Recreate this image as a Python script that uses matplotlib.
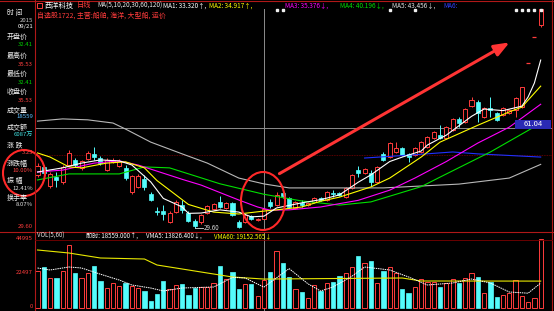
import matplotlib
matplotlib.use('Agg')
import matplotlib.pyplot as plt
from matplotlib.patches import Rectangle, Ellipse, FancyArrowPatch
from matplotlib.transforms import blended_transform_factory

plt.rcParams['font.family'] = ['Noto Sans CJK SC', 'DejaVu Sans']

# ---------------- data ----------------
opens = [46.26, 48.78, 42.80, 45.63, 44.06, 49.40, 50.98, 48.46, 51.29, 52.86,
         51.60, 47.83, 50.35, 49.09, 48.46, 40.92, 42.49, 45.00, 40.29, 34.94,
         34.94, 31.48, 34.63, 36.83, 34.31, 31.80, 31.48, 34.31, 35.57, 37.77,
         35.88, 37.46, 31.48, 31.48, 33.37, 32.15, 32.41, 37.77, 36.83, 40.60,
         39.03, 35.88, 37.30, 36.83, 37.77, 39.03, 38.40, 40.60, 40.60, 39.34,
         42.17, 47.83, 46.89, 46.89, 44.06, 52.86, 51.92, 53.49, 54.75, 52.86,
         52.55, 53.49, 55.06, 57.89, 58.84, 57.89, 60.41, 63.87, 62.92, 67.95,
         69.21, 64.50, 67.17, 65.75, 65.12, 65.75, 66.70, 67.64, 81.47, 89.65,
         93.42]
highs = [50.03, 49.40, 47.20, 47.20, 49.40, 54.12, 51.60, 50.98, 53.81, 55.06,
         52.23, 51.60, 51.60, 51.29, 49.40, 46.26, 46.57, 46.26, 40.92, 36.20,
         36.83, 34.94, 38.40, 38.40, 34.94, 32.43, 34.00, 36.83, 37.46, 39.66,
         37.77, 37.77, 32.11, 34.00, 33.68, 32.60, 35.53, 38.71, 40.92, 41.54,
         39.34, 38.09, 38.40, 37.77, 39.34, 39.34, 41.23, 41.54, 40.92, 42.49,
         46.57, 49.09, 48.46, 47.83, 49.09, 53.49, 56.64, 56.64, 55.06, 53.18,
         55.06, 56.95, 58.52, 60.09, 61.98, 61.67, 64.18, 64.50, 67.32, 70.78,
         69.84, 67.64, 70.78, 66.07, 67.64, 67.01, 70.78, 73.93, 81.47, 89.65,
         98.55]
lows = [45.63, 46.26, 42.17, 42.49, 43.43, 49.09, 48.78, 47.83, 50.98, 50.98,
        49.40, 47.52, 50.03, 48.78, 44.69, 40.29, 42.17, 41.54, 38.09, 33.68,
        32.11, 31.17, 34.31, 34.31, 31.48, 29.60, 30.85, 34.00, 35.26, 35.88,
        35.57, 33.37, 29.75, 31.17, 32.11, 31.95, 32.41, 35.88, 36.51, 39.03,
        35.88, 35.57, 36.20, 36.51, 37.46, 38.09, 38.09, 39.34, 39.66, 39.03,
        41.86, 45.63, 46.57, 42.80, 43.74, 50.66, 51.60, 53.18, 52.23, 50.35,
        52.23, 53.18, 54.75, 57.58, 57.58, 57.58, 60.09, 61.35, 62.61, 67.64,
        62.92, 64.18, 64.50, 63.24, 64.81, 65.44, 64.50, 67.32, 81.47, 89.65,
        92.79]
closes = [49.09, 46.89, 46.57, 44.69, 48.78, 53.18, 49.40, 50.66, 53.18, 51.92,
          50.03, 50.98, 50.98, 50.66, 45.32, 45.95, 45.95, 42.49, 38.40, 34.63,
          34.00, 34.31, 37.77, 35.26, 31.80, 30.23, 33.68, 36.51, 37.14, 36.20,
          37.46, 33.68, 29.91, 33.68, 32.43, 32.30, 35.53, 36.51, 39.97, 39.66,
          36.20, 37.77, 36.98, 37.46, 39.03, 38.40, 40.92, 40.29, 39.97, 42.17,
          46.26, 46.89, 48.15, 44.06, 48.78, 50.98, 56.32, 54.75, 52.55, 51.92,
          54.75, 56.64, 58.21, 59.78, 57.89, 61.35, 63.87, 62.61, 67.01, 69.84,
          65.75, 67.32, 66.85, 63.55, 67.32, 66.70, 70.47, 73.93, 81.47, 89.65,
          98.55]
volumes = [24480, 27130, 19850, 19850, 24480, 41690, 23160, 19850, 23160, 27790,
           17870, 13230, 16540, 14560, 16540, 14560, 13230, 11250, 4630, 9260,
           17870, 12570, 15220, 15880, 8600, 13230, 13900, 13900, 16540, 27790,
           19190, 23820, 12570, 15880, 15880, 7940, 18559, 23820, 37720, 29780,
           20510, 12570, 10590, 6620, 15220, 11250, 16540, 17200, 21170, 23160,
           27130, 34410, 29780, 31100, 16540, 24480, 27130, 23160, 12570, 9930,
           13900, 19190, 17200, 17200, 13900, 16540, 19190, 16540, 19850, 23160,
           20510, 9930, 17200, 7280, 8600, 9930, 18530, 7940, 3970, 6620,
           45660]

ma5_idx = [0, 4, 7, 10, 13, 15, 18, 20, 23, 24, 26, 29, 32, 34, 36, 38, 42, 45, 48, 51,
           53, 56, 58, 61, 62, 65, 69, 71, 74, 77, 78, 79, 80]
ma5_val = [47.2, 48.5, 50.0, 51.0, 50.7, 49.4, 44.1, 38.9, 36.2, 34.2, 34.3, 35.3, 34.6,
           33.1, 33.32, 35.9, 37.5, 38.5, 40.0, 44.0, 46.3, 50.5, 51.9, 53.8, 55.7, 58.8,
           64.7, 67.0, 66.5, 67.9, 70.8, 75.2, 82.4]
ma10_idx = [0, 2, 5, 7, 11, 14, 17, 19, 21, 24, 28, 32, 36, 38, 42, 45, 48, 53, 56, 61,
            64, 70, 75, 77, 80]
ma10_val = [53.2, 51.9, 48.8, 48.5, 50.0, 50.4, 48.5, 44.5, 41.5, 37.0, 34.6, 34.0, 34.92,
            35.3, 36.2, 38.0, 39.3, 42.5, 45.3, 51.9, 56.6, 61.9, 66.1, 67.6, 74.2]
ma20_idx = [0, 4, 9, 13, 16, 23, 26, 32, 35, 37, 40, 45, 51, 56, 60, 65, 70, 75, 80]
ma20_val = [47.2, 47.8, 50.0, 50.7, 49.4, 44.9, 43.1, 38.4, 36.2, 35.2, 35.3, 36.2, 38.3,
            41.5, 45.3, 50.5, 56.3, 61.3, 68.5]
ma30_idx = [0, 5, 13, 17, 21, 29, 36, 42, 48, 53, 61, 64, 72, 79, 80]
ma30_val = [44.7, 46.6, 46.6, 48.8, 48.5, 43.5, 40.2, 38.1, 36.8, 37.8, 42.6, 45.6, 53.5,
            61.4, 62.5]
ma60_idx = [0, 4, 8, 12, 14, 18, 23, 27, 32, 36, 40, 46, 55, 61, 67, 75, 80]
ma60_val = [63.2, 63.9, 63.6, 62.6, 60.7, 56.6, 52.9, 50.0, 45.3, 43.46, 42.2, 42.2, 42.2,
            42.8, 43.4, 45.3, 49.6]
ma120_idx = [52, 59, 66, 70, 80]
ma120_val = [51.6, 52.5, 53.5, 52.9, 51.9]

vma5_idx = [0, 2, 5, 7, 10, 13, 15, 18, 20, 23, 28, 31, 33, 36, 40, 43, 45, 47, 50, 52,
            56, 59, 62, 66, 69, 72, 75, 78, 80]
vma5_val = [26470, 25150, 27130, 26470, 22370, 18500, 15220, 13230, 11250, 13230, 13900,
            20250, 19850, 13826, 26080, 16000, 11250, 13900, 21040, 27130, 25150, 20510,
            15220, 16540, 19190, 16540, 10590, 9790, 16544]
vma60_idx = [0, 5, 10, 17, 19, 26, 31, 36, 58, 61, 80]
vma60_val = [38380, 36390, 33090, 32420, 28450, 23820, 20510, 19152, 19850, 17870, 17800]

cursor_idx = 36
cursor_price = 61.04
info_marks = [38, 39, 56, 60, 76, 77, 78, 79, 80]

stock_name = '西洋科技'
period_name = '日线'
ma_header = [('MA(5,10,20,30,60,120)', '#E8E8E8'), ('MA1: 33.320↑,', '#FFFFFF'),
             ('MA2: 34.917↑,', '#FFFF00'), ('MA3: 35.376↓,', '#FF00FF'),
             ('MA4: 40.196↓,', '#00E000'), ('MA5: 43.456↓,', '#E0E0E0'),
             ('MA6:', '#3040FF')]
sub_header = '自选股1722, 主营:船舶, 海洋, 大型船, 运价'
info_rows = [('时 间', ['2015', '09/21'], ['#C8C8C8', '#FFFFFF']),
             ('开盘价', ['32.41'], ['#00D000']),
             ('最高价', ['35.53'], ['#FF4040']),
             ('最低价', ['32.41'], ['#00D000']),
             ('收盘价', ['35.53'], ['#FF4040']),
             ('成交量', ['18559'], ['#60C0FF']),
             ('成交额', ['6087万'], ['#40E0E0']),
             ('涨 跌', ['3.23'], ['#FF4040']),
             ('涨跌幅', ['10.00%'], ['#FF4040']),
             ('振 幅', ['12.41%'], ['#E0E0E0']),
             ('换手率', ['8.07%'], ['#E0E0E0'])]
vol_header = [('VOL(5,60)', '#E0E0E0'), ('即时: 18559.000↑,', '#FFFFFF'),
              ('VMA5: 13826.400↓,', '#FFFFFF'), ('VMA60: 19152.565↓', '#FFFF00')]
vol_ticks = ['44995', '22497', '0']
price_tick = '29.60'

# ---------------- styling ----------------
RED = '#FF3C3C'
CYAN = '#54FCFC'
BORDER = '#B01818'
W, H = 554, 311
X0, STEP = 37.5, 6.29      # pixel of first candle, pixel per candle

fig = plt.figure(figsize=(W / 100, H / 100), dpi=100)
fig.patch.set_facecolor('black')


def add_ax(top, bottom):
    ax = fig.add_axes([35 / W, 1 - bottom / H, (552 - 35) / W, (bottom - top) / H])
    ax.set_facecolor('black')
    ax.set_xlim((35 - X0) / STEP, (552 - X0) / STEP)
    ax.axis('off')
    return ax


axp = add_ax(0, 230)
axp.set_ylim(101.28 - 0.3144 * 230, 101.28)
axv = add_ax(232, 311)
axv.set_ylim(-3 * 661.7, 76 * 661.7)

# grid (dark red dotted)
axp.axhline(52.4, color='#7A0000', lw=0.6, ls=(0, (1, 1)), zorder=0.5)

# crosshair
axp.axhline(cursor_price, color='#8C8C8C', lw=0.7, zorder=1)
axp.axvline(cursor_idx, ymax=(230 - 9) / 230, color='#8C8C8C', lw=0.7, zorder=1)
axv.axvline(cursor_idx, color='#8C8C8C', lw=0.7, zorder=0.6)

BW = 0.64
for i, (o, h, l, c) in enumerate(zip(opens, highs, lows, closes)):
    if abs(c - o) < 0.06:
        axp.vlines(i, l, h, color=RED, lw=0.7, zorder=2)
        axp.hlines(c, i - BW / 2, i + BW / 2, color=RED, lw=0.9, zorder=2)
    elif c > o:
        axp.vlines(i, c, h, color=RED, lw=0.7, zorder=2)
        axp.vlines(i, l, o, color=RED, lw=0.7, zorder=2)
        axp.add_patch(Rectangle((i - BW / 2, o), BW, c - o, facecolor='black',
                                edgecolor=RED, lw=0.7, zorder=2))
    else:
        axp.vlines(i, l, h, color=CYAN, lw=0.7, zorder=2)
        axp.add_patch(Rectangle((i - BW / 2, c), BW, o - c, facecolor=CYAN,
                                edgecolor=CYAN, lw=0.5, zorder=2))

for i, v in enumerate(volumes):
    up = closes[i] >= opens[i]
    if up:
        axv.add_patch(Rectangle((i - 0.34, 0), 0.68, v, facecolor='black',
                                edgecolor=RED, lw=0.7, zorder=2))
    else:
        axv.add_patch(Rectangle((i - 0.34, 0), 0.68, v, facecolor=CYAN,
                                edgecolor=CYAN, lw=0.5, zorder=2))

for idx, val, col in [(ma120_idx, ma120_val, '#2030FF'), (ma60_idx, ma60_val, '#B8B8B8'),
                      (ma30_idx, ma30_val, '#00E000'), (ma20_idx, ma20_val, '#FF00FF'),
                      (ma10_idx, ma10_val, '#FFFF00'), (ma5_idx, ma5_val, '#FFFFFF')]:
    axp.plot(idx, val, color=col, lw=0.8, zorder=3)

axv.plot(vma60_idx, vma60_val, color='#E8E800', lw=0.8, zorder=3)
axv.plot(vma5_idx, vma5_val, color='#FFFFFF', lw=0.7, ls=(0, (1.5, 0.8)), zorder=3)

# lowest price marker
lo_i = min(range(len(lows)), key=lambda k: lows[k])
axp.plot([lo_i, lo_i + 1.3], [lows[lo_i], lows[lo_i]], color='#D8D8D8', lw=0.6, zorder=4)
axp.text(lo_i + 1.4, lows[lo_i], f'{lows[lo_i]:.2f}', color='#D8D8D8', fontsize=4.5,
         va='center', ha='left', zorder=4)

# info markers at top
tr = blended_transform_factory(axp.transData, axp.transAxes)
axp.plot(info_marks, [1 - 10 / 230] * len(info_marks), ls='none', marker='s',
         ms=1.8, color='#F0F0F0', transform=tr, zorder=4)

# ---------------- overlay (pixel coordinates) ----------------
ov = fig.add_axes([0, 0, 1, 1], zorder=10)
ov.set_xlim(0, W)
ov.set_ylim(H, 0)
ov.axis('off')
ov.patch.set_alpha(0)

ov.plot([34.5, 34.5], [0, H], color=BORDER, lw=0.8)
ov.plot([552, 552], [0, H], color=BORDER, lw=0.8)
ov.plot([0, W], [231.5, 231.5], color=BORDER, lw=0.8)
ov.plot([0, W], [0.6, 0.6], color=BORDER, lw=0.8)
ov.plot([35, 552], [240, 240], color='#7A0000', lw=0.6)

# header
ov.add_patch(Rectangle((37, 2.5), 4.5, 5, facecolor='none', edgecolor=RED, lw=0.7))
ov.text(45, 5.5, stock_name, color='#FFFFFF', fontsize=5.2, va='center', ha='left')
ov.text(77, 5.5, period_name, color=RED, fontsize=5.2, va='center', ha='left')
hx = [97, 163, 209, 285, 340, 392, 443]
for (s, col), x in zip(ma_header, hx):
    ov.text(x, 5.5, s, color=col, fontsize=4.6, va='center', ha='left')
ov.text(37, 16, sub_header, color=RED, fontsize=5.0, va='center', ha='left')

# left info column
label_y = [13.5, 37, 55.5, 73.5, 91.5, 110, 128, 145.5, 164, 181, 197.5]
value_y = [[20, 26.5], [45], [64], [82], [100], [117], [134.5], [152.5], [170.5], [188],
           [204.5]]
for (lab, vals, cols), ly, vys in zip(info_rows, label_y, value_y):
    ov.text(7, ly, lab, color='#F0F0F0', fontsize=5.0, va='center', ha='left')
    for v, c, vy in zip(vals, cols, vys):
        ov.text(33, vy, v, color=c, fontsize=4.3, va='center', ha='right')

ov.text(33, 227, price_tick, color=RED, fontsize=4.3, va='center', ha='right')
for t, y in zip(vol_ticks, [239, 273, 306]):
    ov.text(33, y, t, color=RED, fontsize=4.3, va='center', ha='right')

vx = [37, 86, 146, 214]
for (s, col), x in zip(vol_header, vx):
    ov.text(x, 236, s, color=col, fontsize=4.4, va='center', ha='left')

# cursor price label
ov.add_patch(Rectangle((515, 120), 36, 9, facecolor='#2A2AB4', edgecolor='none'))
ov.text(533, 124.5, f'{cursor_price:.2f}', color='#FFFFFF', fontsize=5.5,
        va='center', ha='center')

# annotations
ov.add_patch(Ellipse((263, 201), 44, 58, fill=False, edgecolor='#FF2828', lw=1.5))
ov.add_patch(Ellipse((24, 173), 42, 46, fill=False, edgecolor='#FF2828', lw=1.5))
ov.add_patch(FancyArrowPatch((277, 175), (512, 41),
                             arrowstyle='-|>,head_length=0.9,head_width=0.35',
                             mutation_scale=10, color='#FF3434', lw=2.2))

fig.savefig('out.png', dpi=100, facecolor='black')
